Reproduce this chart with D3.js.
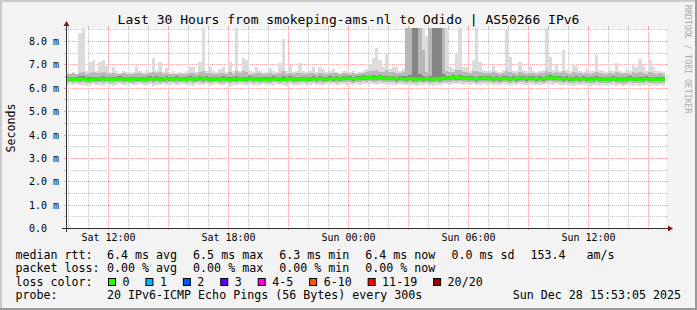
<!DOCTYPE html>
<html><head><meta charset="utf-8">
<script src="https://cdn.jsdelivr.net/npm/d3@7"></script>
<style>
html,body{margin:0;padding:0;background:#f3f3f3;}
svg{display:block;}
text{font-family:"DejaVu Sans Mono",monospace;white-space:pre;}
</style>
</head><body>
<svg id="chart" width="697" height="310"></svg>
<script>
// ---------------- data ----------------
const title = "Last 30 Hours from smokeping-ams-nl to Odido | AS50266 IPv6";
const yAxisLabel = "Seconds";
const watermark = "RRDTOOL / TOBI OETIKER";
const yTickValues = [0, 1, 2, 3, 4, 5, 6, 7, 8];
const yTickLabels = ["0.0", "1.0 m", "2.0 m", "3.0 m", "4.0 m", "5.0 m", "6.0 m", "7.0 m", "8.0 m"];
const xTickTimes = ["2025-12-27T12:00:00", "2025-12-27T18:00:00", "2025-12-28T00:00:00", "2025-12-28T06:00:00", "2025-12-28T12:00:00"];
const xTickLabels = ["Sat 12:00", "Sat 18:00", "Sun 00:00", "Sun 06:00", "Sun 12:00"];
const graphStart = "2025-12-27T09:53:05";
const graphEnd = "2025-12-28T15:53:05";
const firstBin = "2025-12-27T09:50:00";
const binMinutes = 10;

// median RTT per 10-minute bin (ms)
const medianMs = [
6.37,6.36,6.38,6.35,6.37,6.39,6.36,6.34,6.36,6.38,6.37,6.40,6.36,6.38,6.35,6.37,6.39,6.36,6.38,6.35,
6.36,6.38,6.37,6.34,6.36,6.39,6.37,6.40,6.36,6.38,6.41,6.37,6.36,6.39,6.38,6.35,6.37,6.40,6.36,6.38,
6.42,6.37,6.39,6.36,6.38,6.35,6.37,6.39,6.36,6.34,6.37,6.38,6.35,6.37,6.36,6.39,6.37,6.35,6.38,6.36,
6.34,6.37,6.39,6.36,6.38,6.35,6.37,6.40,6.36,6.38,6.37,6.35,6.38,6.36,6.39,6.37,6.40,6.38,6.36,6.39,
6.38,6.41,6.37,6.39,6.42,6.40,6.38,6.41,6.39,6.43,6.41,6.48,6.42,6.40,6.44,6.41,6.39,6.42,6.40,6.38,
6.41,6.39,6.37,6.40,6.38,6.36,6.39,6.37,6.40,6.38,6.36,6.39,6.37,6.41,6.42,6.40,6.44,6.41,6.43,6.40,
6.42,6.39,6.41,6.38,6.40,6.42,6.39,6.41,6.37,6.40,6.38,6.41,6.39,6.37,6.40,6.38,6.42,6.40,6.38,6.41,
6.39,6.37,6.40,6.38,6.41,6.43,6.40,6.42,6.39,6.37,6.40,6.38,6.36,6.39,6.37,6.40,6.38,6.35,6.37,6.39,
6.36,6.38,6.35,6.37,6.39,6.36,6.38,6.34,6.37,6.39,6.36,6.38,6.35,6.37,6.39,6.36,6.38,6.35,6.37,6.36];

// smallest ping per bin (ms)
const minMs = [
6.12,6.15,6.10,6.14,6.11,6.13,6.08,6.12,6.15,6.10,6.13,6.09,6.14,6.11,6.08,6.13,6.15,6.10,6.12,6.14,
6.11,6.13,6.16,6.10,6.12,6.14,6.09,6.13,6.11,6.15,6.10,6.12,6.14,6.11,6.13,6.16,6.10,6.12,6.09,6.14,
6.12,6.10,6.14,6.11,6.13,6.15,6.10,6.12,6.14,6.09,6.13,6.11,6.15,6.12,6.10,6.14,6.11,6.13,6.10,6.15,
6.13,6.10,6.12,6.15,6.11,6.13,6.09,6.14,6.12,6.10,6.13,6.15,6.11,6.12,6.14,6.10,6.13,6.11,6.15,6.12,
6.14,6.11,6.13,6.16,6.12,6.14,6.10,6.15,6.13,6.17,6.14,6.18,6.15,6.13,6.16,6.14,6.12,6.15,6.13,6.11,
6.14,6.12,6.10,6.13,6.11,6.09,6.12,6.10,6.14,6.11,6.09,6.12,6.10,6.14,6.15,6.13,6.16,6.14,6.16,6.13,
6.15,6.12,6.14,6.11,6.13,6.15,6.12,6.14,6.10,6.13,6.11,6.14,6.12,6.10,6.13,6.11,6.15,6.13,6.11,6.14,
6.12,6.10,6.13,6.11,6.14,6.16,6.13,6.15,6.12,6.10,6.13,6.11,6.09,6.12,6.10,6.13,6.11,6.08,6.10,6.12,
6.09,6.11,6.08,6.10,6.12,6.09,6.11,6.07,6.10,6.12,6.09,6.11,6.08,6.10,6.12,6.09,6.11,6.08,6.10,6.09];

// 10th percentile ping per bin (ms)
const p10Ms = [
6.22,6.24,6.21,6.23,6.22,6.25,6.20,6.22,6.24,6.21,6.23,6.22,6.25,6.21,6.20,6.23,6.24,6.21,6.23,6.22,
6.21,6.24,6.25,6.20,6.22,6.24,6.21,6.23,6.22,6.25,6.21,6.23,6.24,6.22,6.23,6.25,6.21,6.23,6.20,6.24,
6.23,6.21,6.24,6.22,6.23,6.25,6.21,6.22,6.24,6.20,6.23,6.22,6.24,6.23,6.21,6.24,6.22,6.23,6.21,6.25,
6.22,6.21,6.23,6.25,6.22,6.23,6.20,6.24,6.22,6.21,6.23,6.25,6.22,6.23,6.24,6.21,6.23,6.22,6.25,6.23,
6.24,6.22,6.23,6.26,6.23,6.25,6.21,6.25,6.24,6.27,6.25,6.28,6.26,6.24,6.27,6.25,6.23,6.26,6.24,6.22,
6.24,6.23,6.21,6.24,6.22,6.20,6.23,6.21,6.24,6.22,6.20,6.23,6.21,6.25,6.26,6.24,6.27,6.25,6.27,6.24,
6.26,6.23,6.25,6.22,6.24,6.26,6.23,6.25,6.21,6.24,6.22,6.25,6.23,6.21,6.24,6.22,6.26,6.24,6.22,6.25,
6.23,6.21,6.24,6.22,6.25,6.27,6.24,6.26,6.23,6.21,6.24,6.22,6.20,6.23,6.21,6.24,6.22,6.19,6.21,6.23,
6.20,6.22,6.19,6.21,6.23,6.20,6.22,6.18,6.21,6.23,6.20,6.22,6.19,6.21,6.23,6.20,6.22,6.19,6.21,6.20];

// 25th percentile ping per bin (ms)
const p25Ms = [
6.30,6.29,6.31,6.28,6.30,6.32,6.29,6.27,6.29,6.31,6.30,6.32,6.29,6.31,6.28,6.30,6.32,6.29,6.31,6.28,
6.29,6.31,6.30,6.27,6.29,6.32,6.30,6.32,6.29,6.31,6.33,6.30,6.29,6.32,6.31,6.28,6.30,6.32,6.29,6.31,
6.34,6.30,6.32,6.29,6.31,6.28,6.30,6.32,6.29,6.27,6.30,6.31,6.28,6.30,6.29,6.32,6.30,6.28,6.31,6.29,
6.27,6.30,6.32,6.29,6.31,6.28,6.30,6.32,6.29,6.31,6.30,6.28,6.31,6.29,6.32,6.30,6.32,6.31,6.29,6.32,
6.31,6.33,6.30,6.32,6.34,6.33,6.31,6.33,6.32,6.35,6.33,6.37,6.34,6.33,6.36,6.33,6.32,6.34,6.33,6.31,
6.33,6.32,6.30,6.33,6.31,6.29,6.32,6.30,6.33,6.31,6.29,6.32,6.30,6.33,6.34,6.33,6.36,6.33,6.35,6.33,
6.34,6.32,6.33,6.31,6.33,6.34,6.32,6.33,6.30,6.33,6.31,6.33,6.32,6.30,6.33,6.31,6.34,6.33,6.31,6.33,
6.32,6.30,6.33,6.31,6.33,6.35,6.33,6.34,6.32,6.30,6.33,6.31,6.29,6.32,6.30,6.33,6.31,6.28,6.30,6.32,
6.29,6.31,6.28,6.30,6.32,6.29,6.31,6.27,6.30,6.32,6.29,6.31,6.28,6.30,6.32,6.29,6.31,6.28,6.30,6.29];

// 75th percentile ping per bin (ms)
const p75Ms = [
6.47,6.46,6.48,6.45,6.49,6.50,6.46,6.45,6.48,6.48,6.47,6.50,6.46,6.48,6.45,6.47,6.49,6.46,6.48,6.45,
6.46,6.48,6.47,6.44,6.46,6.49,6.48,6.50,6.47,6.48,6.51,6.47,6.46,6.49,6.48,6.45,6.47,6.50,6.47,6.48,
6.52,6.48,6.49,6.46,6.48,6.45,6.47,6.49,6.46,6.45,6.47,6.49,6.45,6.48,6.47,6.49,6.47,6.45,6.48,6.46,
6.44,6.47,6.49,6.46,6.48,6.50,6.47,6.50,6.46,6.48,6.47,6.45,6.48,6.46,6.49,6.47,6.50,6.48,6.46,6.49,
6.48,6.51,6.47,6.49,6.52,6.50,6.48,6.51,6.49,6.53,6.51,6.56,6.53,6.52,6.55,6.51,6.52,6.52,6.50,6.48,
6.51,6.49,6.50,6.55,9.50,9.50,6.60,6.52,6.48,6.50,9.50,9.50,9.50,6.60,6.52,6.50,6.54,6.51,6.53,6.50,
6.52,6.49,6.51,6.48,6.50,6.52,6.49,6.51,6.47,6.50,6.48,6.51,6.50,6.47,6.50,6.48,6.52,6.50,6.48,6.51,
6.49,6.47,6.50,6.48,6.51,6.53,6.50,6.52,6.49,6.47,6.50,6.48,6.46,6.49,6.47,6.50,6.48,6.45,6.47,6.49,
6.46,6.48,6.45,6.47,6.49,6.46,6.48,6.44,6.47,6.49,6.46,6.48,6.45,6.47,6.49,6.46,6.48,6.45,6.47,6.46];

// 90th percentile ping per bin (ms)
const p90Ms = [
6.60,6.58,6.62,6.57,6.65,6.66,6.60,6.64,6.66,6.62,6.64,6.68,6.62,6.60,6.63,6.60,6.58,6.62,6.59,6.57,
6.60,6.64,6.62,6.58,6.60,6.62,6.68,6.62,6.66,6.60,6.64,6.58,6.60,6.57,6.60,6.58,6.60,6.64,6.65,6.60,
6.66,6.70,6.62,6.64,6.60,6.58,6.62,6.64,6.60,6.66,6.60,6.70,6.62,6.70,6.68,6.60,6.58,6.64,6.61,6.58,
6.58,6.62,6.60,6.58,6.64,6.72,6.60,6.64,6.58,6.62,6.65,6.60,6.58,6.62,6.64,6.60,6.64,6.62,6.58,6.61,
6.64,6.62,6.58,6.62,6.64,6.60,6.62,6.58,6.61,6.65,6.66,6.70,6.72,6.78,6.68,6.66,6.74,6.66,6.68,6.64,
6.64,6.66,9.50,9.50,9.50,9.50,9.50,7.60,6.66,9.50,9.50,9.50,9.50,9.50,6.70,6.66,6.68,6.74,6.76,6.66,
6.68,6.64,6.70,6.72,6.68,6.64,6.62,6.64,6.66,6.62,6.60,6.64,6.72,6.68,6.62,6.60,6.66,6.62,6.60,6.64,
6.62,6.60,6.62,6.64,6.72,6.68,6.63,6.66,6.62,6.70,6.64,6.60,6.66,6.64,6.62,6.60,6.62,6.60,6.62,6.68,
6.62,6.60,6.58,6.64,6.60,6.66,6.62,6.58,6.64,6.60,6.66,6.62,6.68,6.64,6.60,6.66,6.62,6.58,6.62,6.60];

// largest ping per bin (ms)
const maxMs = [
6.64,6.62,6.67,6.60,8.35,9.50,6.72,7.12,7.20,6.70,7.12,7.20,6.95,6.67,6.90,6.70,6.64,6.72,6.66,6.62,
6.68,6.95,6.72,6.64,6.70,6.66,7.27,6.72,7.12,6.68,6.85,6.64,6.70,6.62,6.67,6.64,6.70,6.90,6.90,6.68,
7.10,9.50,6.72,6.90,6.70,6.66,6.80,6.90,6.68,7.12,6.70,9.50,6.72,7.28,7.20,6.70,6.66,6.90,6.72,6.64,
6.68,6.85,6.70,6.66,7.05,8.08,6.72,6.98,6.68,6.72,7.05,6.70,6.66,6.72,6.90,6.68,6.90,6.80,6.66,6.70,
6.80,6.68,6.64,6.70,6.72,6.66,6.70,6.64,6.68,6.72,6.80,7.00,7.27,7.70,7.20,6.90,7.45,6.80,6.90,6.88,
6.72,6.80,9.50,9.50,9.50,9.50,9.50,9.50,8.23,9.50,9.50,9.50,9.50,9.50,9.50,6.88,6.80,7.45,9.50,6.88,
6.88,6.72,7.17,9.50,7.10,6.78,6.70,6.72,6.95,6.72,6.68,6.78,8.45,7.30,6.72,6.70,7.10,6.74,6.70,6.88,
6.72,6.68,6.72,6.78,9.50,7.30,6.74,7.00,6.72,7.62,6.78,6.70,7.00,6.95,6.72,6.68,6.74,6.70,6.72,7.40,
6.74,6.72,6.68,6.78,6.70,7.05,6.72,6.68,6.78,6.70,7.00,6.88,7.24,6.95,6.72,7.17,6.88,6.70,6.72,6.68];

// legend
const rttLabel = "median rtt:";
const rttStats = ["6.4 ms avg", "6.5 ms max", "6.3 ms min", "6.4 ms now", "0.0 ms sd", "153.4   am/s"];
const lossLabel = "packet loss:";
const lossStats = ["0.00 % avg", "0.00 % max", "0.00 % min", "0.00 % now"];
const lossColorLabel = "loss color:";
const lossColorNames = ["0", "1", "2", "3", "4-5", "6-10", "11-19", "20/20"];
const lossColorValues = ["#26ff00", "#00b8ff", "#0059ff", "#5e00ff", "#ff00ea", "#ff5500", "#ff0000", "#a10000"];
const probeLabel = "probe:";
const probeText = "20 IPv6-ICMP Echo Pings (56 Bytes) every 300s";
const dateText = "Sun Dec 28 15:53:05 2025";

// ---------------- drawing ----------------
const W = 697, H = 310;
const X0 = 66, X1 = 666, Y0 = 228, Y1 = 28;
const svg = d3.select("#chart");
const parse = d3.timeParse("%Y-%m-%dT%H:%M:%S");

svg.append("rect").attr("width", W).attr("height", H).attr("fill", "#f3f3f3");
// 3D border
svg.append("path").attr("d", `M0,${H} V0 H${W}`).attr("fill", "none").attr("stroke", "#cbcbcb").attr("stroke-width", 4);
svg.append("path").attr("d", `M0,${H} H${W} V0`).attr("fill", "none").attr("stroke", "#999999").attr("stroke-width", 4);

const x = d3.scaleTime().domain([parse(graphStart), parse(graphEnd)]).range([X0, X1]);
const y = d3.scaleLinear().domain([0, 200 / 23.375]).range([Y0, Y1]);

// canvas
svg.append("rect").attr("x", X0).attr("y", Y1).attr("width", X1 - X0).attr("height", Y0 - Y1).attr("fill", "#ffffff");

const minorCol = "#c4c4c4", majorCol = "#f0a0a0";
const grid = svg.append("g").attr("shape-rendering", "crispEdges");
// horizontal grid
const hMinor = d3.range(0, 8.51, 0.5);
hMinor.forEach(v => {
  const major = Math.abs(v - Math.round(v)) < 1e-6;
  const py = Math.round(y(v)) + 0.5;
  if (v === 0) return;
  const col = major ? majorCol : minorCol;
  grid.append("line").attr("x1", X0).attr("x2", X1).attr("y1", py).attr("y2", py)
    .attr("stroke", col).attr("stroke-dasharray", "1,1");
  grid.append("line").attr("x1", X0 - 2).attr("x2", X0).attr("y1", py).attr("y2", py).attr("stroke", col);
  grid.append("line").attr("x1", X1).attr("x2", X1 + 2).attr("y1", py).attr("y2", py).attr("stroke", col);
});
// vertical grid
const hours = d3.timeHour.range(x.domain()[0], x.domain()[1]);
hours.forEach(h => {
  const px = Math.round(x(h)) + 0.5;
  const major = h.getHours() % 3 === 0;
  const col = major ? majorCol : minorCol;
  grid.append("line").attr("x1", px).attr("x2", px).attr("y1", Y1).attr("y2", Y0)
    .attr("stroke", col).attr("stroke-dasharray", "1,1");
  grid.append("line").attr("x1", px).attr("x2", px).attr("y1", Y0).attr("y2", Y0 + 2).attr("stroke", col);
  grid.append("line").attr("x1", px).attr("x2", px).attr("y1", Y1 - 2).attr("y2", Y1).attr("stroke", col);
});

// data
svg.append("clipPath").attr("id", "plotclip").append("rect")
  .attr("x", X0 + 1).attr("y", Y1).attr("width", X1 - X0 - 1).attr("height", Y0 - Y1);
const plot = svg.append("g").attr("clip-path", "url(#plotclip)");
const n = medianMs.length;
const t0 = parse(firstBin);
const rows = d3.range(n + 1).map(i => ({ t: d3.timeMinute.offset(t0, i * binMinutes), k: Math.min(i, n - 1) }));
function band(lo, hi, color) {
  const area = d3.area().x(d => x(d.t)).y0(d => y(lo[d.k])).y1(d => y(hi[d.k])).curve(d3.curveStepAfter);
  plot.append("path").attr("d", area(rows)).attr("fill", color).attr("shape-rendering", "crispEdges");
}
band(minMs, maxMs, "#dcdcdc");
band(p10Ms, p90Ms, "#b8b8b8");
band(p25Ms, p75Ms, "#848484");
const medLine = d3.line().x(d => x(d.t)).y(d => y(medianMs[d.k])).curve(d3.curveStepAfter);
plot.append("path").attr("d", medLine(rows)).attr("fill", "none")
  .attr("stroke", lossColorValues[0]).attr("stroke-width", 3);

// axes
const axisCol = "#333333", arrowCol = "#8b1010";
svg.append("line").attr("x1", X0 - 4).attr("x2", X1 + 2).attr("y1", Y0 + 0.5).attr("y2", Y0 + 0.5)
  .attr("stroke", axisCol).attr("shape-rendering", "crispEdges");
svg.append("line").attr("x1", X0 + 0.5).attr("x2", X0 + 0.5).attr("y1", Y0 + 4).attr("y2", Y1 - 3)
  .attr("stroke", axisCol).attr("shape-rendering", "crispEdges");
svg.append("path").attr("d", `M${X1 + 2},${Y0 - 2.5} L${X1 + 7},${Y0 + 0.5} L${X1 + 2},${Y0 + 3.5} Z`).attr("fill", arrowCol);
svg.append("path").attr("d", `M${X0 - 2.5},${Y1 - 2} L${X0 + 0.5},${Y1 - 7} L${X0 + 3.5},${Y1 - 2} Z`).attr("fill", arrowCol);

// tick labels
const ax = svg.append("g").attr("font-size", "10px").attr("fill", "#000");
yTickValues.forEach((v, i) => {
  ax.append("text").attr("x", 29).attr("y", Math.round(y(v)) + 4).text(yTickLabels[i]);
});
xTickTimes.forEach((s, i) => {
  ax.append("text").attr("x", Math.round(x(parse(s))) + 0.5).attr("y", 240.7)
    .attr("text-anchor", "middle").text(xTickLabels[i]);
});

// title & labels
svg.append("text").attr("x", 348.5).attr("y", 23.5).attr("text-anchor", "middle")
  .attr("font-size", "13px").text(title);
svg.append("text").attr("transform", "translate(15,128) rotate(-90)").attr("text-anchor", "middle")
  .attr("font-size", "11.65px").text(yAxisLabel);
svg.append("text").attr("transform", "translate(685,5) rotate(90)")
  .attr("font-size", "8.2px").attr("fill", "#aaaaaa").text(watermark);

// legend
const cw = 7.02;
const lg = svg.append("g").attr("font-size", "11.65px").attr("fill", "#000");
const rowY = [258.5, 272, 285.6, 299.2];
const col0 = 15.5, col1 = 107;
lg.append("text").attr("x", col0).attr("y", rowY[0]).text(rttLabel);
let cx = col1;
rttStats.forEach(s => { lg.append("text").attr("x", cx).attr("y", rowY[0]).text(s); cx += s.length * cw + 15.9; });
lg.append("text").attr("x", col0).attr("y", rowY[1]).text(lossLabel);
cx = col1;
lossStats.forEach(s => { lg.append("text").attr("x", cx).attr("y", rowY[1]).text(s); cx += s.length * cw + 15.9; });
lg.append("text").attr("x", col0).attr("y", rowY[2]).text(lossColorLabel);
cx = 108;
lossColorNames.forEach((s, i) => {
  lg.append("rect").attr("x", cx + 0.5).attr("y", 278.5).attr("width", 7).attr("height", 7)
    .attr("fill", lossColorValues[i]).attr("stroke", "#000").attr("stroke-width", 1);
  lg.append("text").attr("x", cx + 14.5).attr("y", rowY[2]).text(s);
  cx += 15.1 + s.length * cw + 15.3;
});
lg.append("text").attr("x", col0).attr("y", rowY[3]).text(probeLabel);
lg.append("text").attr("x", col1).attr("y", rowY[3]).text(probeText);
lg.append("text").attr("x", 681).attr("y", rowY[3]).attr("text-anchor", "end").text(dateText);
</script>
</body></html>
